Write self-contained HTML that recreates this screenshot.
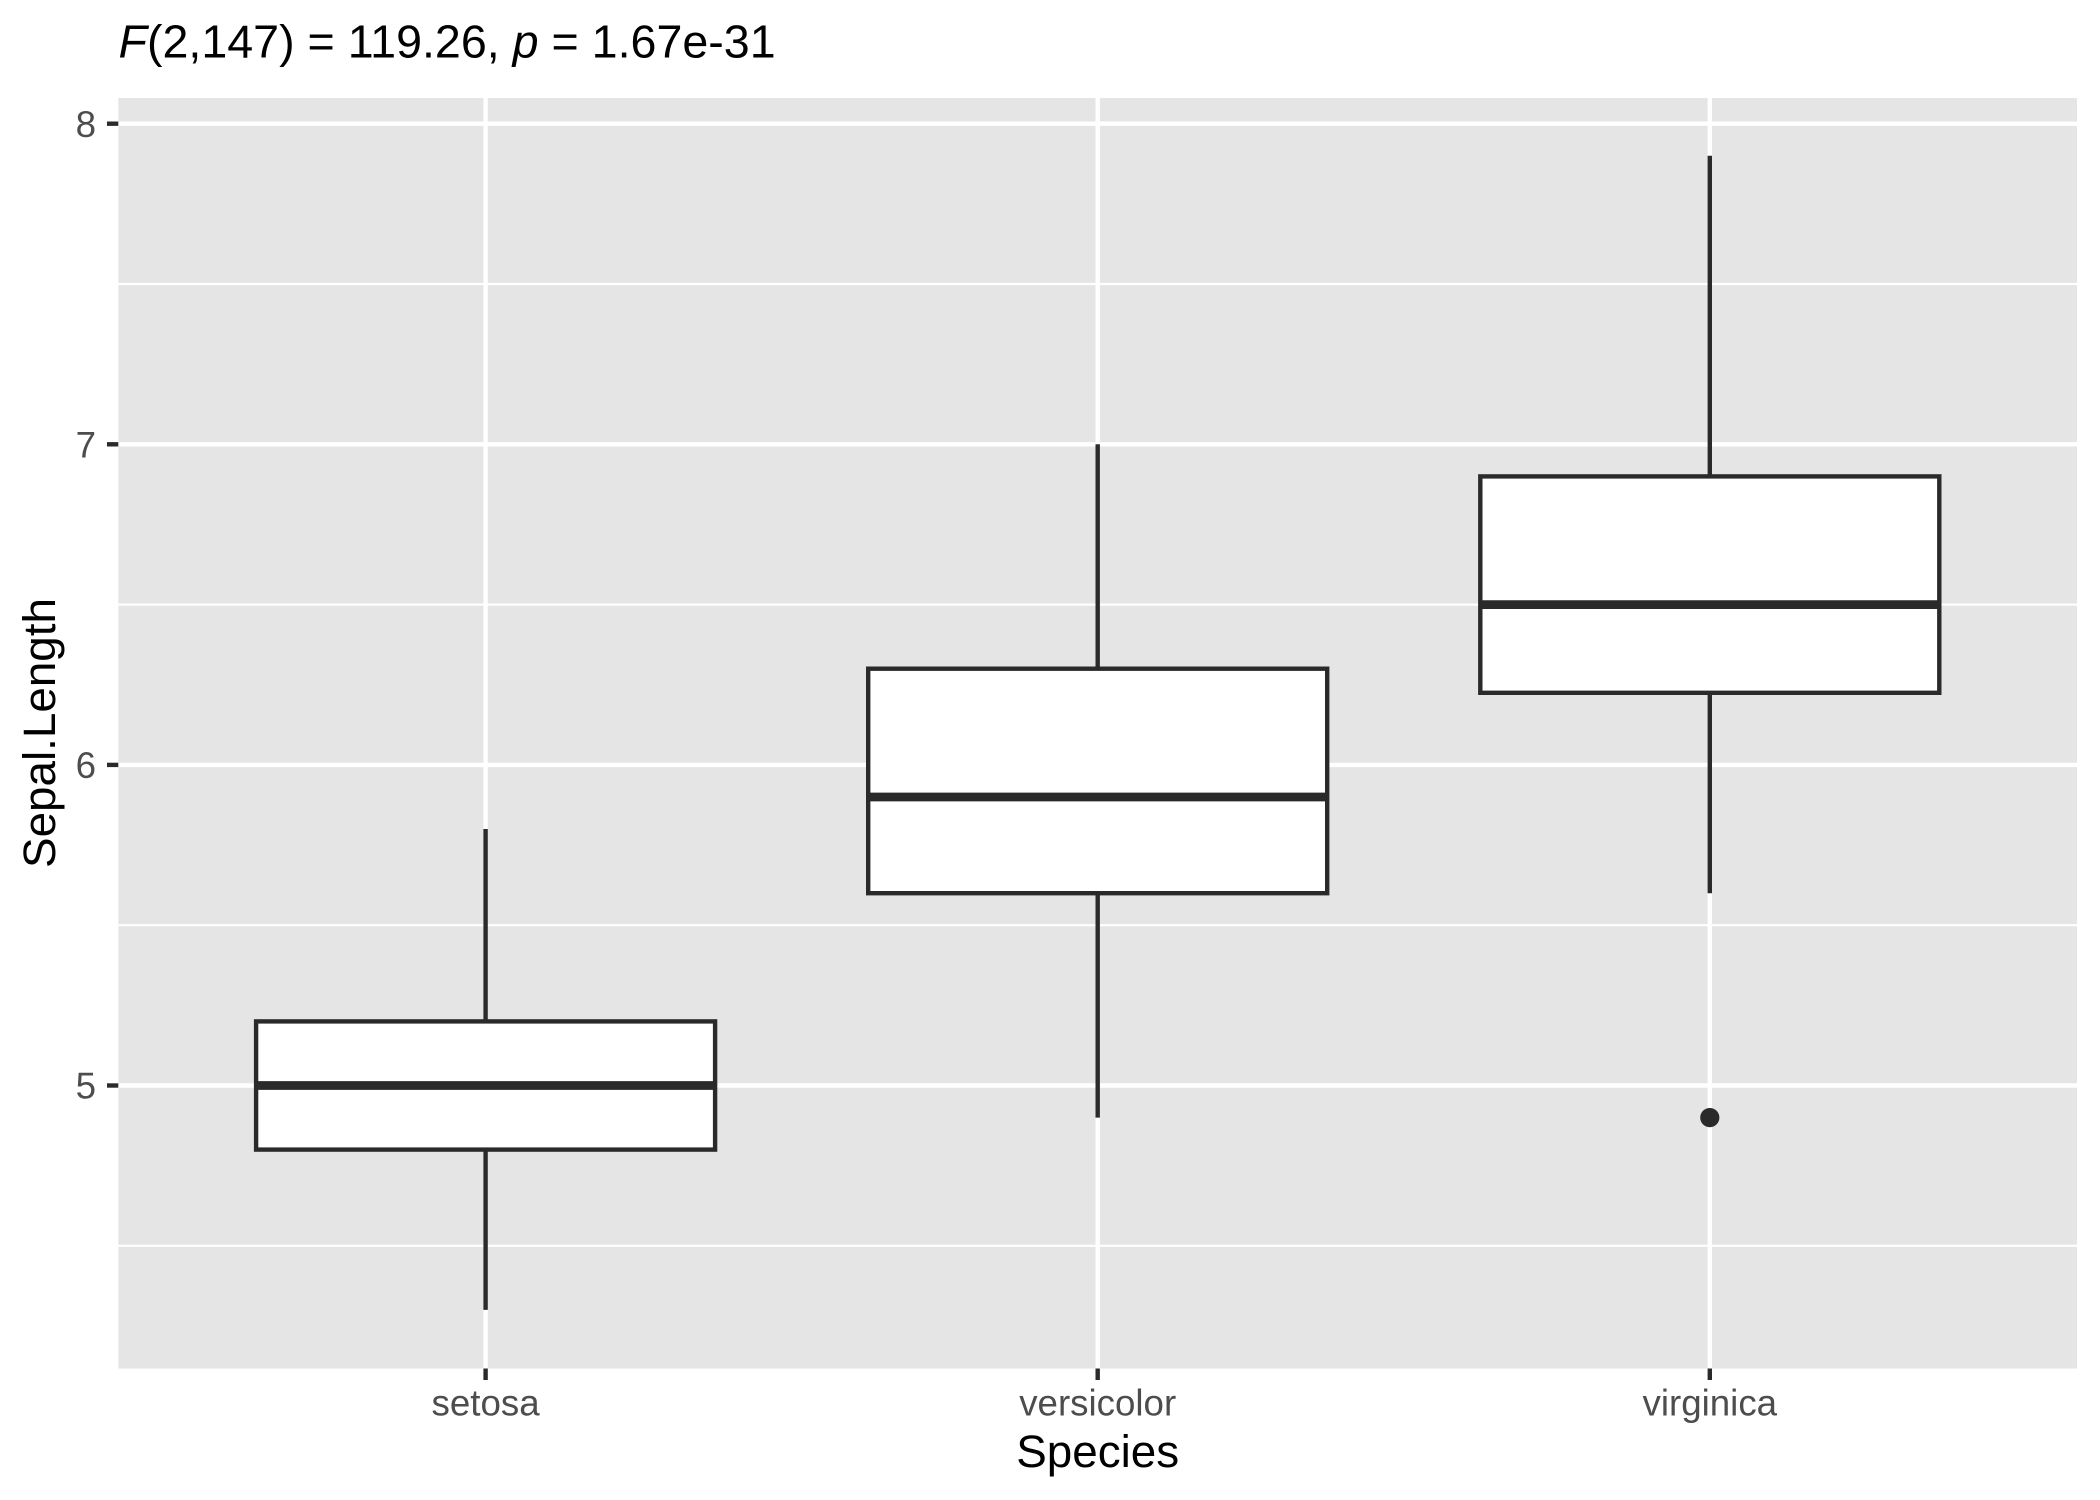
<!DOCTYPE html>
<html>
<head>
<meta charset="utf-8">
<style>
  html, body { margin: 0; padding: 0; background: #ffffff; }
  svg { display: block; }
  text { font-family: "Liberation Sans", "DejaVu Sans", sans-serif; }
</style>
</head>
<body>
<svg width="2100" height="1500" viewBox="0 0 2100 1500" xmlns="http://www.w3.org/2000/svg">
  <rect x="0" y="0" width="2100" height="1500" fill="#ffffff"/>
  <!-- panel -->
  <rect x="118.3" y="98" width="1958.7" height="1270.5" fill="#E5E5E5"/>
  <!-- minor gridlines -->
  <g stroke="#ffffff" stroke-width="2.2">
    <line x1="118.3" x2="2077" y1="284.0" y2="284.0"/>
    <line x1="118.3" x2="2077" y1="604.6" y2="604.6"/>
    <line x1="118.3" x2="2077" y1="925.2" y2="925.2"/>
    <line x1="118.3" x2="2077" y1="1245.8" y2="1245.8"/>
  </g>
  <!-- major gridlines -->
  <g stroke="#ffffff" stroke-width="4.4">
    <line x1="118.3" x2="2077" y1="123.7" y2="123.7"/>
    <line x1="118.3" x2="2077" y1="444.3" y2="444.3"/>
    <line x1="118.3" x2="2077" y1="764.9" y2="764.9"/>
    <line x1="118.3" x2="2077" y1="1085.5" y2="1085.5"/>
    <line x1="485.6" x2="485.6" y1="98" y2="1368.5"/>
    <line x1="1097.7" x2="1097.7" y1="98" y2="1368.5"/>
    <line x1="1709.8" x2="1709.8" y1="98" y2="1368.5"/>
  </g>
  <!-- boxplots -->
  <g stroke="#2A2A2A" stroke-width="4.4" fill="#ffffff">
    <!-- setosa -->
    <line x1="485.6" x2="485.6" y1="1021.4" y2="829.0"/>
    <line x1="485.6" x2="485.6" y1="1149.6" y2="1309.9"/>
    <rect x="256.1" y="1021.4" width="459" height="128.2"/>
    <line x1="256.1" x2="715.1" y1="1085.5" y2="1085.5" stroke-width="8.8"/>
    <!-- versicolor -->
    <line x1="1097.7" x2="1097.7" y1="668.7" y2="444.3"/>
    <line x1="1097.7" x2="1097.7" y1="893.2" y2="1117.6"/>
    <rect x="868.2" y="668.7" width="459" height="224.5"/>
    <line x1="868.2" x2="1327.2" y1="797.0" y2="797.0" stroke-width="8.8"/>
    <!-- virginica -->
    <line x1="1709.8" x2="1709.8" y1="476.4" y2="155.8"/>
    <line x1="1709.8" x2="1709.8" y1="692.8" y2="893.2"/>
    <rect x="1480.3" y="476.4" width="459" height="216.4"/>
    <line x1="1480.3" x2="1939.3" y1="604.6" y2="604.6" stroke-width="8.8"/>
  </g>
  <circle cx="1709.8" cy="1117.6" r="9.6" fill="#2A2A2A"/>
  <!-- axis ticks -->
  <g stroke="#2A2A2A" stroke-width="4.4">
    <line x1="107" x2="118.3" y1="123.7" y2="123.7"/>
    <line x1="107" x2="118.3" y1="444.3" y2="444.3"/>
    <line x1="107" x2="118.3" y1="764.9" y2="764.9"/>
    <line x1="107" x2="118.3" y1="1085.5" y2="1085.5"/>
    <line x1="485.6" x2="485.6" y1="1368.5" y2="1380"/>
    <line x1="1097.7" x2="1097.7" y1="1368.5" y2="1380"/>
    <line x1="1709.8" x2="1709.8" y1="1368.5" y2="1380"/>
  </g>
  <!-- y tick labels -->
  <g fill="#4D4D4D" font-size="36.7" text-anchor="end">
    <text x="96" y="136.8">8</text>
    <text x="96" y="457.4">7</text>
    <text x="96" y="778.0">6</text>
    <text x="96" y="1098.6">5</text>
  </g>
  <!-- x tick labels -->
  <g fill="#4D4D4D" font-size="36.7" text-anchor="middle">
    <text x="485.6" y="1415.5">setosa</text>
    <text x="1097.7" y="1415.5">versicolor</text>
    <text x="1709.8" y="1415.5">virginica</text>
  </g>
  <!-- axis titles -->
  <text x="1097.7" y="1467" font-size="45.8" text-anchor="middle" fill="#000000">Species</text>
  <text transform="translate(55,733) rotate(-90)" x="0" y="0" font-size="45.8" text-anchor="middle" fill="#000000">Sepal.Length</text>
  <!-- title -->
  <text x="118.5" y="57.3" font-size="46.6" fill="#000000"><tspan font-style="italic">F</tspan>(2,147) = 119.26, <tspan font-style="italic">p</tspan> = 1.67e-31</text>
</svg>
</body>
</html>
